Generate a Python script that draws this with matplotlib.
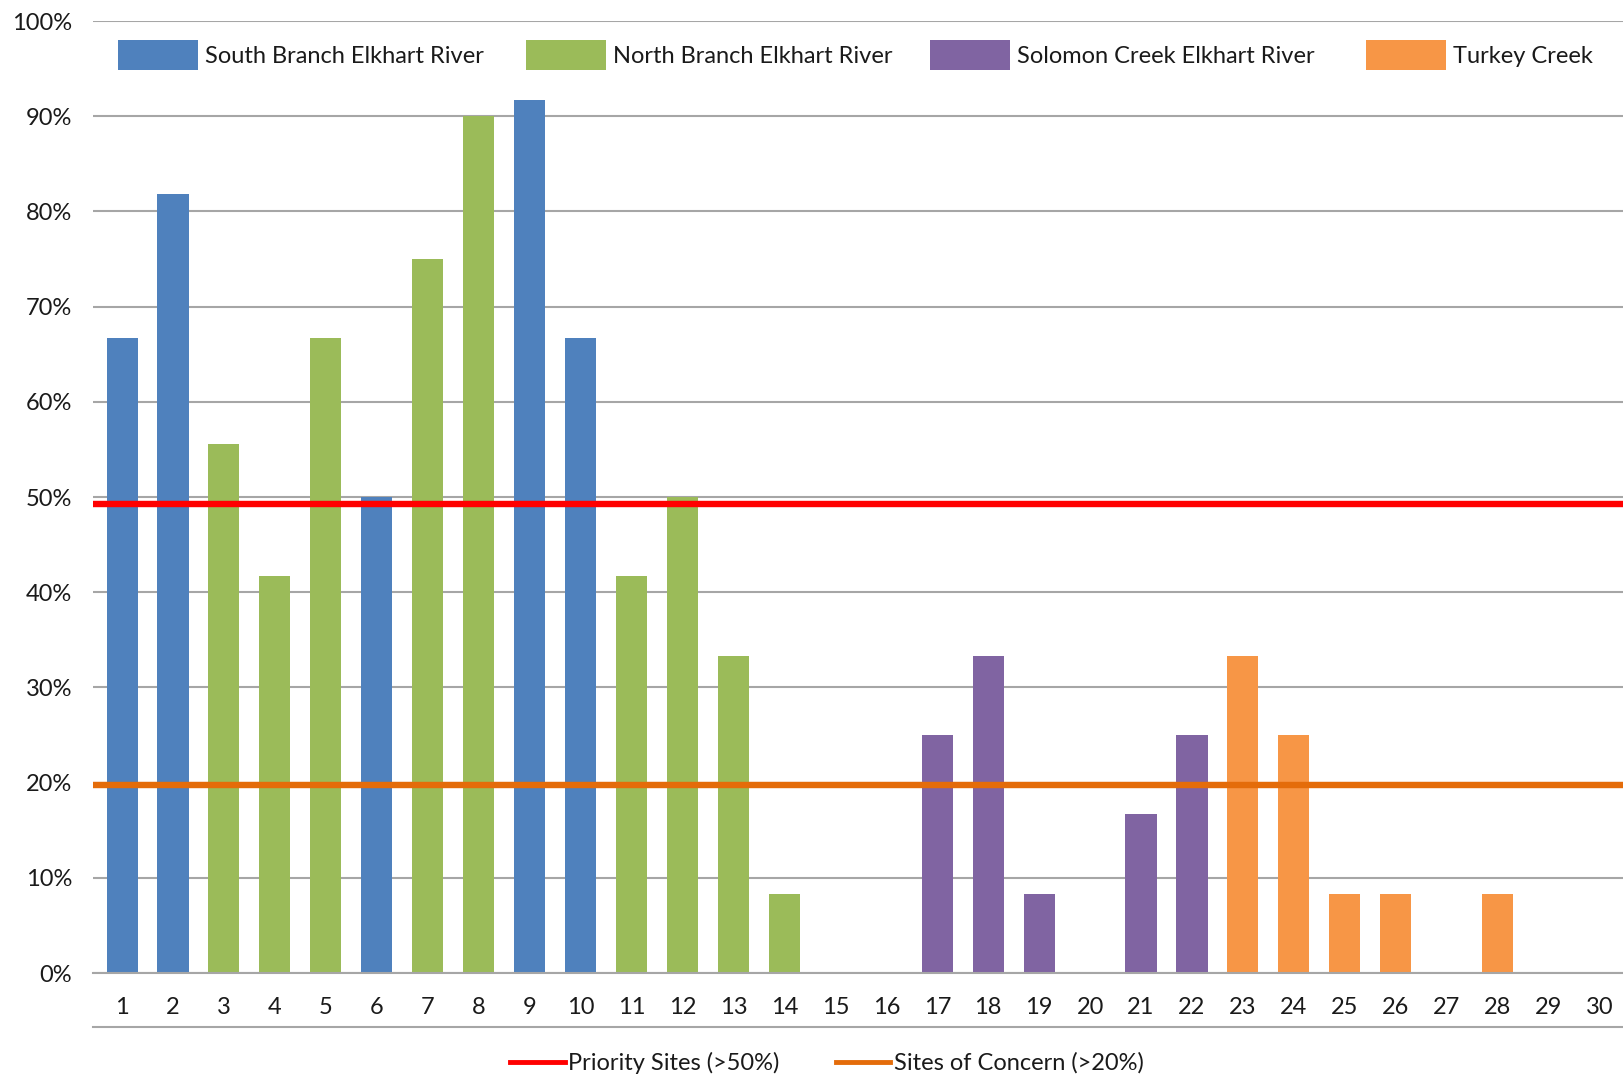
import matplotlib
matplotlib.use("Agg")
import matplotlib.pyplot as plt
from matplotlib.patches import Patch
from matplotlib.lines import Line2D

plt.rcParams['font.family'] = ['Lato', 'DejaVu Sans']

# Site numbers and share of samples per site (fraction)
sites = list(range(1, 31))
values = [0.667, 0.818, 0.556, 0.417, 0.667, 0.50, 0.75, 0.90, 0.917, 0.667,
          0.417, 0.50, 0.333, 0.083, 0.0, 0.0, 0.25, 0.333, 0.083, 0.0,
          0.167, 0.25, 0.333, 0.25, 0.083, 0.083, 0.0, 0.083, 0.0, 0.0]
# Watershed each site belongs to
groups = ['S', 'S', 'N', 'N', 'N', 'S', 'N', 'N', 'S', 'S',
          'N', 'N', 'N', 'N', 'N', 'N', 'P', 'P', 'P', 'P',
          'P', 'P', 'T', 'T', 'T', 'T', 'T', 'T', 'T', 'T']
group_names = {'S': 'South Branch Elkhart River',
               'N': 'North Branch Elkhart River',
               'P': 'Solomon Creek Elkhart River',
               'T': 'Turkey Creek'}
group_colors = {'S': '#4F81BD', 'N': '#9BBB59', 'P': '#8064A2', 'T': '#F79646'}

# Threshold lines
priority_level = 0.493
concern_level = 0.197
priority_label = 'Priority Sites (>50%)'
concern_label = 'Sites of Concern (>20%)'

W, H = 1623, 1081
fig = plt.figure(figsize=(W / 100, H / 100), dpi=100)
ax = fig.add_axes([93 / W, 1 - 973 / H, 1 - 93 / W, (973 - 21) / H])

text_color = '#1a1a1a'
grid_color = '#A6A6A6'
fs = 17

ax.bar(sites, values, width=0.61, color=[group_colors[g] for g in groups],
       zorder=2, linewidth=0)

ax.axhline(priority_level, color='#FF0000', lw=4.6, zorder=3)
ax.axhline(concern_level, color='#E46C0A', lw=4.6, zorder=3)

ax.set_xlim(0.43, 30.46)
ax.set_ylim(0, 1.0)
ax.set_yticks([i / 10 for i in range(11)])
ax.set_yticklabels([f'{i * 10}%' for i in range(11)])
ax.set_xticks(sites)
ax.set_xticklabels([str(s) for s in sites])
ax.yaxis.grid(True, color=grid_color, lw=1.5, zorder=0)
ax.set_axisbelow(True)
for side in ['top', 'right', 'left']:
    ax.spines[side].set_visible(False)
ax.spines['bottom'].set_color(grid_color)
ax.spines['bottom'].set_linewidth(1.5)
ax.tick_params(axis='both', length=0, labelsize=fs, colors=text_color)
ax.tick_params(axis='y', pad=15)
ax.tick_params(axis='x', pad=17)

# Line under the category labels
fig.add_artist(Line2D([93 / W, 1.0], [1 - 1027 / H] * 2, color=grid_color,
                      lw=1.5, transform=fig.transFigure))

# Series legend across the top of the plot
patch_left = {'S': 118, 'N': 526, 'P': 930, 'T': 1366}
for g in ['S', 'N', 'P', 'T']:
    fig.legend(handles=[Patch(facecolor=group_colors[g], edgecolor='none')],
               labels=[group_names[g]], loc='center left',
               bbox_to_anchor=(patch_left[g] / W, 1 - 55 / H),
               frameon=False, fontsize=fs, handlelength=3.4,
               handleheight=1.55, handletextpad=0.3, borderpad=0,
               borderaxespad=0, labelcolor=text_color)

# Threshold legend at the bottom
fig.legend(handles=[Line2D([], [], color='#FF0000', lw=3.5),
                    Line2D([], [], color='#E46C0A', lw=3.5)],
           labels=[priority_label, concern_label], loc='center',
           bbox_to_anchor=(827 / W, 1 - 1063 / H), ncol=2, frameon=False,
           fontsize=fs, handlelength=2.3, handletextpad=0.15,
           columnspacing=2.4, borderpad=0, labelcolor=text_color)

fig.savefig('out.png', dpi=100, facecolor='white')
